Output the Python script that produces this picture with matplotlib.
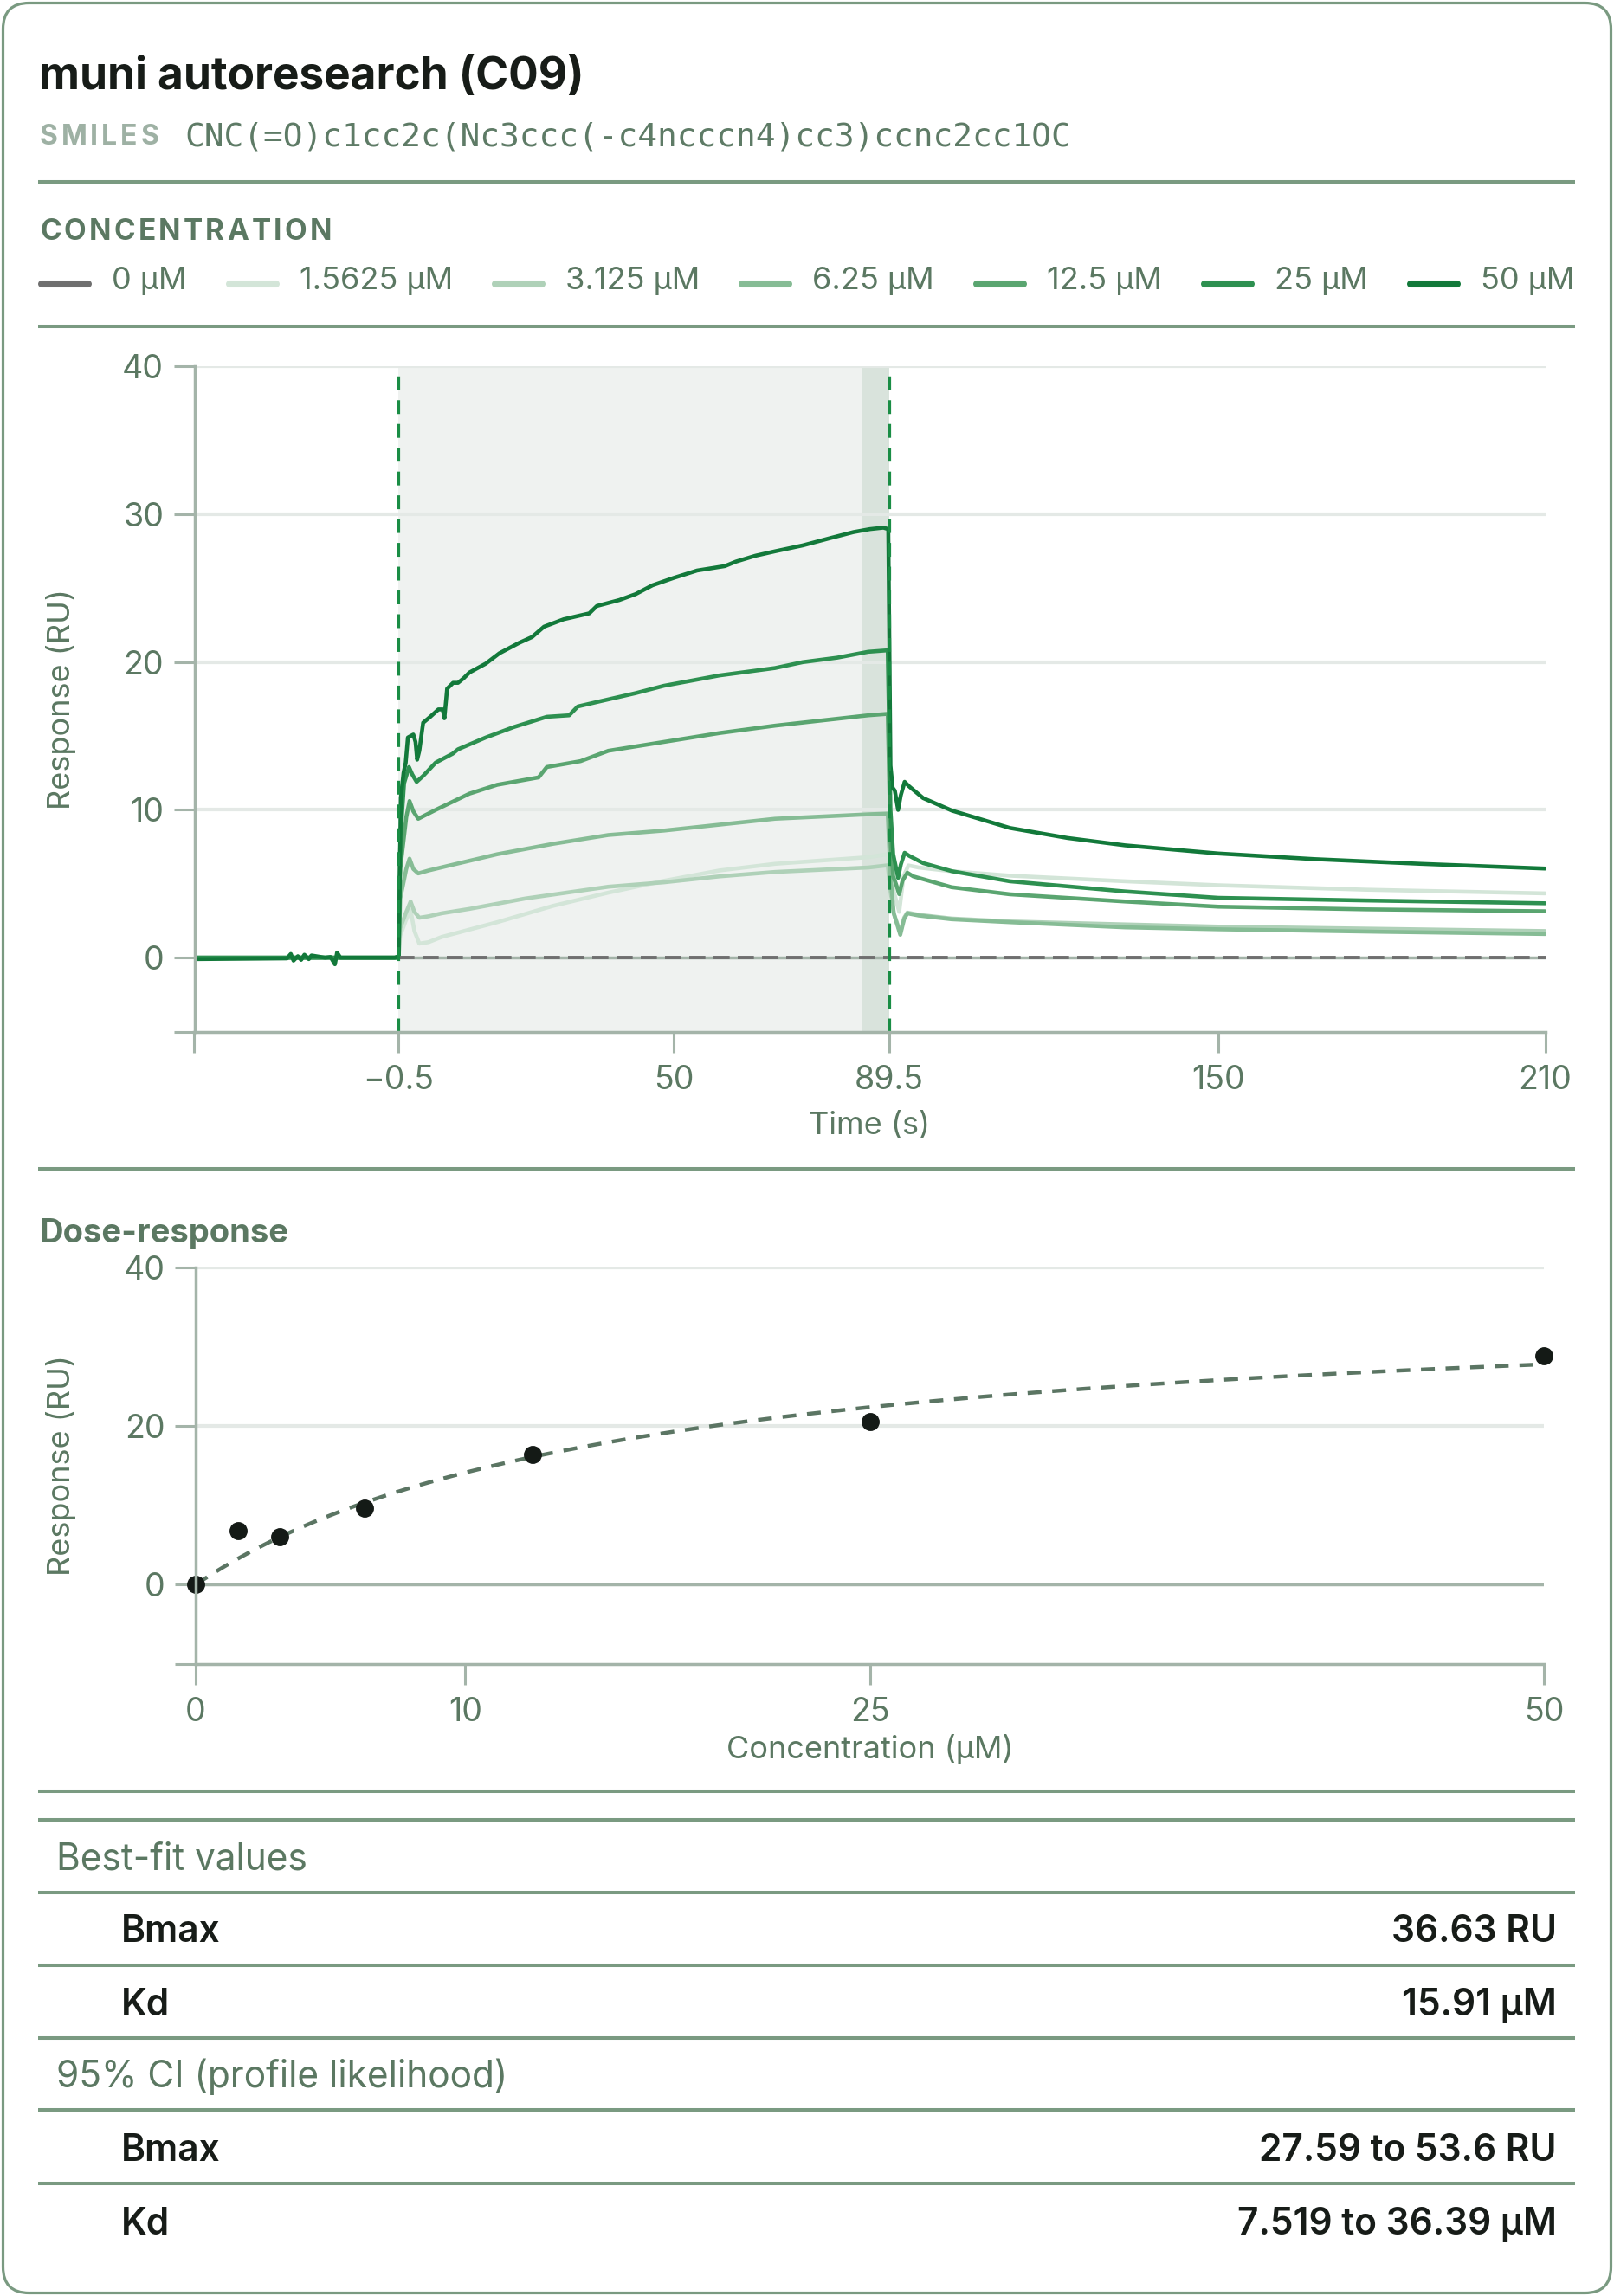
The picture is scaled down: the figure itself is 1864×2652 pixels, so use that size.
import numpy as np
import matplotlib
matplotlib.use("Agg")
import matplotlib.pyplot as plt
from matplotlib.patches import FancyBboxPatch
from matplotlib.lines import Line2D

# ---------------- data ----------------
title = "muni autoresearch (C09)"
smiles = "CNC(=O)c1cc2c(Nc3ccc(-c4ncccn4)cc3)ccnc2cc1OC"

conc_labels = ["0 µM", "1.5625 µM", "3.125 µM", "6.25 µM", "12.5 µM", "25 µM", "50 µM"]
trace_colors = ["#6f6f6f", "#d3e5d8", "#afd1b8", "#86bc95", "#5aa570", "#2d9050", "#12793a"]

# sensorgram traces: time (s) and response (RU)
t_0 = [-0.5, 210]
r_0 = [0.0, 0.0]

t_1p5625 = [-38, -0.5, -0.2, 0.8, 1.7, 2.4, 3.3, 5, 7.4, 17.6, 27.8, 38, 48.2, 58.4, 68.6, 85.7, 89.3,
            89.8, 90.4, 91.4, 92.2, 93.1, 95, 101, 111.7, 132.9, 150, 177, 210]
r_1p5625 = [0, 0, 1.5, 2.5, 3.2, 1.8, 0.95, 1.05, 1.4, 2.4, 3.5, 4.4, 5.2, 5.9, 6.35, 6.8, 7.0,
            5.5, 4.5, 3.1, 5.5, 6.24, 6.1, 5.85, 5.55, 5.17, 4.9, 4.6, 4.35]

t_3p125 = [-38, -0.5, -0.2, 0.8, 1.7, 2.4, 3.3, 5, 7.4, 12.5, 22.7, 38, 48.2, 58.4, 68.6, 85.7, 89.3,
           89.8, 90.4, 91.6, 92.3, 92.9, 95, 101, 111.7, 132.9, 150, 180, 210]
r_3p125 = [0, 0, 2.0, 3.0, 3.8, 3.1, 2.7, 2.8, 3.0, 3.3, 4.0, 4.8, 5.1, 5.5, 5.8, 6.1, 6.25,
           4.5, 3.0, 1.7, 2.7, 3.05, 2.9, 2.65, 2.45, 2.25, 2.1, 1.95, 1.8]

t_6p25 = [-38, -0.5, -0.2, 0.9, 1.5, 2.2, 3.1, 5, 8.4, 17.6, 27.8, 38, 48.2, 58.4, 68.6, 85.7, 89.3,
          89.8, 90.4, 91.6, 92.3, 92.9, 95, 101, 111.7, 132.9, 150, 180, 210]
r_6p25 = [0, 0, 4.0, 6.0, 6.7, 6.0, 5.7, 5.9, 6.2, 7.0, 7.7, 8.3, 8.6, 9.0, 9.4, 9.7, 9.75,
          5.5, 3.0, 1.55, 2.6, 3.0, 2.85, 2.6, 2.4, 2.05, 1.92, 1.75, 1.6]

t_12p5 = [-38, -0.5, -0.2, 0.9, 1.5, 2.2, 3.1, 6.3, 12.5, 17.6, 25.2, 26.7, 32.9, 38, 48.2, 58.4, 68.6,
          85.7, 89.3, 89.8, 90.3, 90.8, 91.4, 92.0, 92.9, 94, 101, 111.7, 132.9, 150, 177, 210]
r_12p5 = [0, 0, 6.0, 9.5, 10.6, 9.9, 9.4, 10.0, 11.1, 11.7, 12.2, 12.9, 13.3, 14.0, 14.6, 15.2, 15.7,
          16.4, 16.5, 8.0, 5.5, 5.0, 4.3, 5.2, 5.75, 5.5, 4.77, 4.29, 3.8, 3.45, 3.27, 3.14]

t_25 = [-38, -0.5, -0.2, 0.5, 1.4, 2.0, 2.8, 4.0, 6.3, 9.4, 10.4, 15.5, 20.6, 26.7, 30.8, 32.4, 35.9,
        43, 48.2, 58.4, 68.6, 73.7, 80, 85.7, 89.3, 89.8, 90.3, 90.7, 91.2, 91.7, 92.4, 93.2, 95.8,
        101.1, 111.7, 132.9, 150, 177, 210]
r_25 = [0, 0, 8.0, 11.8, 12.9, 12.4, 11.9, 12.3, 13.2, 13.8, 14.1, 14.9, 15.6, 16.3, 16.4, 17.0, 17.3,
        17.9, 18.4, 19.1, 19.6, 20.0, 20.3, 20.7, 20.8, 10.0, 7.0, 6.3, 5.4, 6.3, 7.1, 6.9, 6.4,
        5.85, 5.17, 4.48, 4.05, 3.87, 3.68]

t_50 = [-38, -21, -20.3, -19.8, -19, -18.4, -17.8, -17, -16.5, -14, -13, -12.2, -11.8, -11.2, -6, -1.2,
        -0.5, -0.3, -0.1, 0.4, 0.8, 1.2, 2.2, 2.6, 2.9, 3.3, 4.0, 5.3, 6.8, 7.6, 7.9, 8.4, 9.5, 10.4,
        11.4, 12.5, 14, 15.5, 18, 21.6, 24, 26.2, 29.8, 34.5, 35.9, 40, 43, 46.1, 50, 54.3, 59.4, 61.4,
        65, 68.6, 73.7, 78.8, 83, 86, 88.5, 89.4, 89.8, 90.2, 90.6, 91.2, 91.7, 92.4, 93.2, 95.8,
        101.1, 111.7, 122.3, 132.9, 150, 167.6, 187.2, 210]
r_50 = [-0.1, -0.05, 0.25, -0.2, 0.1, -0.15, 0.2, -0.1, 0.15, 0.0, 0.05, -0.45, 0.35, 0.0, 0.0, 0.0,
        0.1, 5.0, 10.8, 12.5, 13.2, 14.9, 15.1, 14.6, 13.4, 14.0, 15.9, 16.3, 16.8, 16.8, 16.2, 18.2, 18.6, 18.6,
        18.9, 19.3, 19.6, 19.9, 20.6, 21.3, 21.7, 22.4, 22.9, 23.3, 23.8, 24.2, 24.6, 25.2, 25.7, 26.2, 26.5, 26.8,
        27.2, 27.5, 27.9, 28.4, 28.8, 29.0, 29.1, 29.0, 13.0, 11.5, 11.3, 10.0, 11.0, 11.9, 11.6, 10.8,
        9.95, 8.78, 8.1, 7.6, 7.05, 6.67, 6.35, 6.03]

trace_t = [t_0, t_1p5625, t_3p125, t_6p25, t_12p5, t_25, t_50]
trace_r = [r_0, r_1p5625, r_3p125, r_6p25, r_12p5, r_25, r_50]

inj_start, inj_end = -0.5, 89.5
report_window = (84.5, 89.5)
time_ticks = [-38, -0.5, 50, 89.5, 150, 210]
time_tick_labels = ["", "\u22120.5", "50", "89.5", "150", "210"]
resp_ticks = [-5, 0, 10, 20, 30, 40]
resp_tick_labels = ["", "0", "10", "20", "30", "40"]

# dose-response
dose_conc = [0, 1.5625, 3.125, 6.25, 12.5, 25, 50]
dose_resp = [0.0, 6.84, 6.06, 9.6, 16.4, 20.6, 28.9]
bmax = 36.63
kd = 15.91
dose_xticks = [0, 10, 25, 50]
dose_yticks = [-10, 0, 20, 40]
dose_ytick_labels = ["", "0", "20", "40"]

table_rows = [("head", "Best-fit values", ""),
              ("row", "Bmax", "36.63 RU"),
              ("row", "Kd", "15.91 µM"),
              ("head", "95% CI (profile likelihood)", ""),
              ("row", "Bmax", "27.59 to 53.6 RU"),
              ("row", "Kd", "7.519 to 36.39 µM")]

# ---------------- style ----------------
W, H, DPI = 1864, 2652, 100
SAGE = "#7a9a81"
TXT = "#5b7862"
SPINE = "#a4b4a9"
GRID = "#e4e9e6"
DARK = "#171c18"
plt.rcParams["font.family"] = ["Inter", "DejaVu Sans"]

fig = plt.figure(figsize=(W / DPI, H / DPI), dpi=DPI)
fig.patch.set_facecolor("white")
ov = fig.add_axes([0, 0, 1, 1])
ov.set_xlim(0, W)
ov.set_ylim(H, 0)
ov.axis("off")
ov.patch.set_visible(False)
renderer = fig.canvas.get_renderer()


def text_w(s, **kw):
    t = ov.text(0, 0, s, **kw)
    w = t.get_window_extent(renderer).width
    t.remove()
    return w


def spaced(x, y, s, target_w, **kw):
    ws = [text_w(c, **kw) for c in s]
    gap = (target_w - sum(ws)) / (len(s) - 1)
    cur = x
    for c, w in zip(s, ws):
        ov.text(cur, y, c, va="baseline", **kw)
        cur += w + gap


def px_rect(l, t, r, b):
    return [l / W, 1 - b / H, (r - l) / W, (b - t) / H]


# card
ov.add_patch(FancyBboxPatch((3.5, 3.5), W - 7, H - 7, boxstyle="round,pad=0,rounding_size=30",
                            fc="none", ec=SAGE, lw=2.3))

# header
ov.text(45, 103, title, fontsize=37, fontweight="bold", color=DARK, va="baseline")
spaced(46, 167, "SMILES", 137, fontsize=23, fontweight="bold", color="#9eb1a4")
ov.text(213, 169, smiles, fontsize=27.3, family="DejaVu Sans Mono", color="#5e7b66", va="baseline")

for yy in [210, 377, 1350, 2069, 2101.5, 2185.7, 2269.5, 2353.6, 2437, 2521.6]:
    ov.plot([44, 1819], [yy, yy], color=SAGE, lw=2.9, solid_capstyle="butt")

spaced(46, 277, "CONCENTRATION", 337, fontsize=24, fontweight="bold", color=TXT)

# legend row (spread across the card width)
LEG_FS = 26
widths = [text_w(lab, fontsize=LEG_FS) for lab in conc_labels]
gap = (1818 - 44 - sum(85 + w for w in widths)) / (len(conc_labels) - 1)
x = 44
for lab, col, w in zip(conc_labels, trace_colors, widths):
    ov.add_line(Line2D([x + 4, x + 58], [328, 328], lw=5.8, color=col, solid_capstyle="round"))
    ov.text(x + 85, 334, lab, fontsize=LEG_FS, color=TXT, va="baseline")
    x = x + 85 + w + gap

# ---------------- sensorgram ----------------
ax1 = fig.add_axes(px_rect(224.5, 423.4, 1784.5, 1191.5))
ax1.set_xlim(min(t_50), max(t_50))
ax1.set_ylim(resp_ticks[0], resp_ticks[-1])
ax1.axvspan(inj_start, inj_end, color="#eff2f0", lw=0, zorder=0.1)
ax1.axvspan(report_window[0], report_window[1], color="#d9e3dc", lw=0, zorder=0.2)
for v in resp_ticks[2:]:
    ax1.axhline(v, color=GRID, lw=3, zorder=0.5)
ax1.axhline(0, color=SPINE, lw=2.5, zorder=0.5)
for tt, rr, col in zip(trace_t, trace_r, trace_colors):
    if col == trace_colors[0]:
        ax1.plot(tt, rr, color=col, lw=2.8, ls=(0, (4.8, 2.4)), zorder=3)
    else:
        ax1.plot(tt, rr, color=col, lw=3.3, solid_joinstyle="round", solid_capstyle="round", zorder=2)
for v in (inj_start, inj_end):
    ax1.axvline(v, color="#1a8d45", lw=2.3, ls=(0, (5, 3.6)), zorder=4)

ax1.set_xticks(time_ticks)
ax1.set_xticklabels(time_tick_labels)
ax1.set_yticks(resp_ticks)
ax1.set_yticklabels(resp_tick_labels)
ax1.set_xlabel("Time (s)", fontsize=26, color=TXT)
ax1.xaxis.label.set_va("center")
ax1.xaxis.set_label_coords(0.5, (1191.5 - 1300) / 768)
ax1.set_ylabel("Response (RU)", fontsize=26, color=TXT)
ax1.yaxis.label.set_va("center")
ax1.yaxis.set_label_coords((71 - 224.5) / 1560, 0.5)

# ---------------- dose-response ----------------
ov.text(46, 1435, "Dose-response", fontsize=27.5, fontweight="bold", color=TXT, va="baseline")
ax2 = fig.add_axes(px_rect(226, 1464, 1783, 1922))
ax2.set_xlim(dose_conc[0], dose_conc[-1])
ax2.set_ylim(dose_yticks[0], dose_yticks[-1])
for v in dose_yticks[2:]:
    ax2.axhline(v, color=GRID, lw=3, zorder=0.5)
ax2.axhline(0, color=SPINE, lw=2.5, zorder=0.6)
xf = np.linspace(dose_conc[0], dose_conc[-1], 300)
ax2.plot(xf, bmax * xf / (kd + xf), color="#5b7563", lw=3.2, ls=(0, (3.6, 2.8)), zorder=2)
ax2.plot(dose_conc, dose_resp, "o", color="#141a16", ms=14, zorder=3, clip_on=False)
ax2.set_xticks(dose_xticks)
ax2.set_yticks(dose_yticks)
ax2.set_yticklabels(dose_ytick_labels)
ax2.set_xlabel("Concentration (µM)", fontsize=26, color=TXT)
ax2.xaxis.label.set_va("center")
ax2.xaxis.set_label_coords(0.5, (1922 - 2021) / 458)
ax2.set_ylabel("Response (RU)", fontsize=26, color=TXT)
ax2.yaxis.label.set_va("center")
ax2.yaxis.set_label_coords((71 - 226) / 1557, 0.5)

for ax in (ax1, ax2):
    ax.set_facecolor("none")
    for s in ("top", "right"):
        ax.spines[s].set_visible(False)
    for s in ("left", "bottom"):
        ax.spines[s].set_color(SPINE)
        ax.spines[s].set_linewidth(2.5)
        ax.spines[s].set_zorder(5)
    ax.tick_params(axis="both", length=17.5, width=2.2, color=SPINE, labelsize=27, labelcolor=TXT)
    ax.tick_params(axis="x", pad=10)
    ax.tick_params(axis="y", pad=8)

# ---------------- table ----------------
baselines = [2160, 2243, 2328, 2411, 2496, 2581]
for (kind, lab, val), yb in zip(table_rows, baselines):
    if kind == "head":
        ov.text(65, yb, lab, fontsize=30.5, color=TXT, va="baseline")
    else:
        ov.text(140, yb, lab, fontsize=30.5, fontweight=600, color=DARK, va="baseline")
        ov.text(1798, yb, val, fontsize=30.5, fontweight=600, color=DARK, va="baseline", ha="right")

fig.savefig("out.png", dpi=DPI, facecolor="white")
